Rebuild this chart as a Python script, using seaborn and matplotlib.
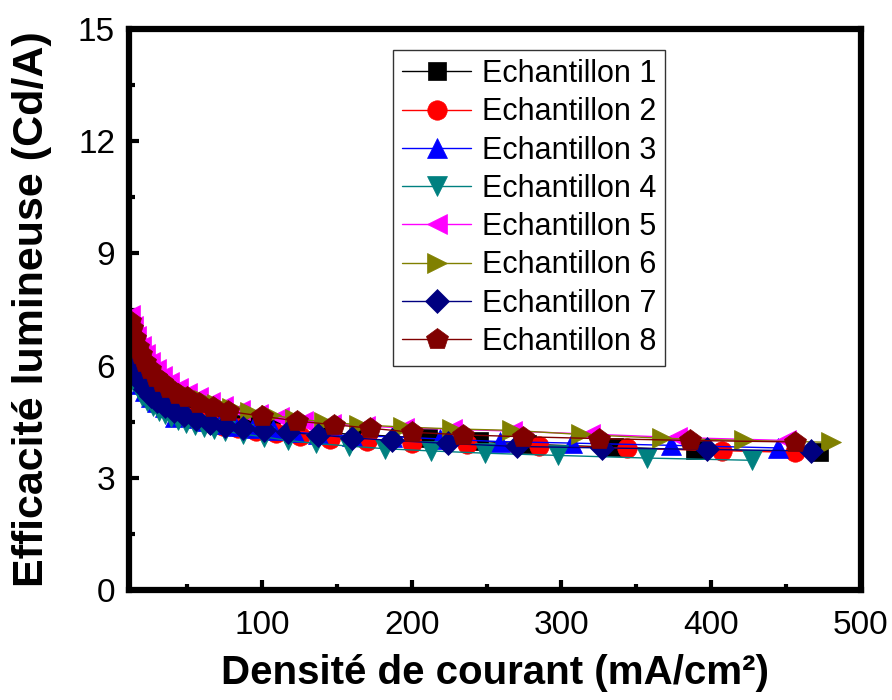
import matplotlib
matplotlib.use("Agg")
import matplotlib.pyplot as plt
import seaborn as sns
import pandas as pd
from matplotlib.ticker import MultipleLocator

# ---------------- data ----------------
labels = ["Echantillon 1", "Echantillon 2", "Echantillon 3", "Echantillon 4",
          "Echantillon 5", "Echantillon 6", "Echantillon 7", "Echantillon 8"]

x1 = [12, 14, 16, 19, 22, 26, 30, 35, 40, 46, 53, 61, 70, 80, 92, 106, 122, 143, 170, 211, 245, 277, 335, 389, 472]
y1 = [6.4, 6.15, 5.9, 5.7, 5.5, 5.32, 5.17, 5.03, 4.92, 4.8, 4.7, 4.6, 4.52, 4.45, 4.38, 4.32, 4.25, 4.2, 4.15, 4.06, 3.98, 3.9, 3.82, 3.75, 3.7]

x2 = [12, 14, 16, 19, 22, 25, 29, 33, 38, 44, 50, 57, 65, 74, 84, 96, 109, 125, 145, 170, 200, 237, 285, 344, 407, 456]
y2 = [6.3, 6.05, 5.82, 5.6, 5.42, 5.25, 5.1, 4.97, 4.85, 4.74, 4.64, 4.55, 4.47, 4.4, 4.33, 4.26, 4.2, 4.13, 4.05, 3.98, 3.93, 3.9, 3.86, 3.79, 3.73, 3.68]

x3 = [12, 14, 16, 19, 22, 26, 30, 35, 42, 48, 55, 63, 72, 82, 94, 107, 121, 137, 160, 187, 219, 259, 307, 373, 445]
y3 = [6.1, 5.9, 5.7, 5.5, 5.33, 5.17, 5.03, 4.9, 4.62, 4.7, 4.6, 4.52, 4.45, 4.38, 4.32, 4.27, 4.22, 4.18, 4.12, 4.1, 4.04, 3.97, 3.93, 3.87, 3.8]

x4 = [12, 14, 17, 20, 23, 27, 31, 35, 39, 44, 49, 55, 61, 68, 75, 87, 101, 117, 136, 158, 182, 213, 249, 298, 357, 427]
y4 = [5.85, 5.6, 5.4, 5.2, 5.05, 4.92, 4.8, 4.7, 4.62, 4.55, 4.48, 4.42, 4.36, 4.3, 4.25, 4.17, 4.1, 4.0, 3.92, 3.85, 3.78, 3.72, 3.66, 3.6, 3.53, 3.47]

x5 = [12, 14, 16, 19, 22, 25, 29, 33, 38, 44, 50, 57, 65, 74, 85, 97, 111, 127, 146, 169, 195, 227, 267, 319, 377, 450]
y5 = [7.35, 7.05, 6.78, 6.52, 6.3, 6.1, 5.9, 5.72, 5.55, 5.4, 5.27, 5.15, 5.03, 4.92, 4.82, 4.72, 4.62, 4.53, 4.45, 4.38, 4.34, 4.3, 4.25, 4.17, 4.08, 4.0]

x6 = [12, 14, 16, 19, 22, 26, 30, 35, 40, 46, 53, 61, 70, 80, 92, 106, 122, 141, 165, 194, 227, 267, 313, 367, 422, 480]
y6 = [7.1, 6.85, 6.6, 6.38, 6.17, 5.95, 5.77, 5.6, 5.45, 5.32, 5.2, 5.08, 4.97, 4.87, 4.77, 4.68, 4.58, 4.5, 4.42, 4.36, 4.31, 4.27, 4.16, 4.06, 4.0, 3.95]

x7 = [12, 14, 16, 19, 22, 26, 30, 35, 41, 48, 56, 65, 75, 87, 101, 117, 137, 160, 187, 224, 270, 327, 397, 467]
y7 = [6.2, 5.95, 5.75, 5.55, 5.38, 5.2, 5.05, 4.92, 4.8, 4.68, 4.58, 4.48, 4.4, 4.33, 4.28, 4.22, 4.15, 4.07, 4.0, 3.92, 3.84, 3.8, 3.76, 3.72]

x8 = [12, 13, 15, 17, 19, 22, 25, 29, 33, 38, 44, 50, 58, 67, 77, 100, 123, 148, 172, 200, 234, 274, 325, 386, 456]
y8 = [7.2, 7.0, 6.75, 6.5, 6.3, 6.1, 5.9, 5.7, 5.55, 5.4, 5.25, 5.15, 5.0, 4.9, 4.78, 4.65, 4.52, 4.42, 4.33, 4.22, 4.15, 4.1, 4.05, 4.0, 3.96]

xs = [x1, x2, x3, x4, x5, x6, x7, x8]
ys = [y1, y2, y3, y4, y5, y6, y7, y8]

colors = ["#000000", "#FF0000", "#0000FF", "#008080",
          "#FF00FF", "#808000", "#000080", "#800000"]
markers = ["s", "o", "^", "v", "<", ">", "D", "p"]
msizes = [13, 14, 15, 15, 15, 15, 12, 16]

x_ticks = [100, 200, 300, 400, 500]
y_ticks = [0, 3, 6, 9, 12, 15]

# ---------------- style ----------------
sns.set_theme(style="white")
plt.rcParams["font.family"] = ["Liberation Sans", "DejaVu Sans"]
plt.rcParams["text.color"] = "black"
plt.rcParams["axes.labelcolor"] = "black"
plt.rcParams["xtick.color"] = "black"
plt.rcParams["ytick.color"] = "black"

fig = plt.figure(figsize=(8.92, 7.0), dpi=100)
ax = fig.add_axes([0.1446, 0.157, 0.8204, 0.8016])

for xv, yv, c, m, ms, lab in zip(xs, ys, colors, markers, msizes, labels):
    df = pd.DataFrame({"x": xv, "y": yv})
    sns.lineplot(data=df, x="x", y="y", ax=ax, color=c, marker=m,
                 markersize=ms, markeredgecolor=c, markeredgewidth=0.5,
                 linewidth=1.0, label=lab, sort=False, estimator=None)

ax.set_xlim(11, 500)
ax.set_ylim(0, 15)
ax.set_xticks(x_ticks)
ax.set_yticks(y_ticks)
ax.xaxis.set_minor_locator(MultipleLocator(50))
ax.yaxis.set_minor_locator(MultipleLocator(1.5))

for sp in ax.spines.values():
    sp.set_visible(True)
    sp.set_linewidth(4.5)
    sp.set_color("black")

ax.tick_params(axis="both", which="major", direction="in", length=7, width=3,
               labelsize=24, pad=10, colors="black",
               bottom=True, left=True, top=False, right=False)
ax.tick_params(axis="both", which="minor", direction="in", length=4, width=3,
               colors="black", bottom=True, left=True, top=False, right=False)
ax.tick_params(axis="x", which="major", pad=14)

ax.set_xlabel("Densité de courant (mA/cm²)", fontsize=29, fontweight="bold",
              labelpad=10, color="black")
ax.set_ylabel("Efficacité lumineuse (Cd/A)", fontsize=31, fontweight="bold",
              labelpad=19, color="black")

leg = ax.legend(loc="upper left", bbox_to_anchor=(393 / 892, 1 - 50 / 700),
                bbox_transform=fig.transFigure, borderaxespad=0,
                fontsize=22, frameon=True, fancybox=False,
                edgecolor="#333333", framealpha=1, labelspacing=0.27,
                handlelength=2.25, handletextpad=0.35, borderpad=0.3)
leg.get_frame().set_linewidth(1.0)
for t in leg.get_texts():
    t.set_color("black")

fig.savefig("out.png", dpi=100, facecolor="white")
